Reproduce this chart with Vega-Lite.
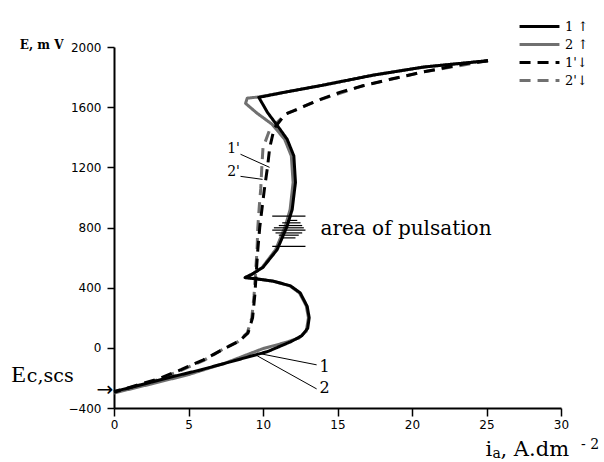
{
  "$schema": "https://vega.github.io/schema/vega-lite/v6.json",
  "width": 447,
  "height": 361,
  "autosize": {"type": "none"},
  "padding": {"left": 114, "top": 47, "right": 43, "bottom": 54},
  "background": "white",
  "config": {
    "view": {"stroke": null},
    "axis": {
      "domainColor": "black", "domainWidth": 2, "tickColor": "black", "tickWidth": 1.5,
      "labelColor": "black", "labelFont": "DejaVu Sans", "labelFontSize": 12,
      "grid": false, "labelFlush": false, "labelOverlap": false
    }
  },
  "datasets": {
    "curves": [
      {"s": "2 ↑", "k": 1, "i": 0, "E": -300},
      {"s": "2 ↑", "k": 2, "i": 2.5, "E": -240},
      {"s": "2 ↑", "k": 3, "i": 5, "E": -178},
      {"s": "2 ↑", "k": 4, "i": 7.5, "E": -100},
      {"s": "2 ↑", "k": 5, "i": 10, "E": -5},
      {"s": "2 ↑", "k": 6, "i": 11.5, "E": 35},
      {"s": "2 ↑", "k": 7, "i": 12.4, "E": 65},
      {"s": "2 ↑", "k": 8, "i": 12.9, "E": 110},
      {"s": "2 ↑", "k": 9, "i": 13.05, "E": 200},
      {"s": "2 ↑", "k": 10, "i": 12.9, "E": 280},
      {"s": "2 ↑", "k": 11, "i": 12.45, "E": 365},
      {"s": "2 ↑", "k": 12, "i": 11.8, "E": 412},
      {"s": "2 ↑", "k": 13, "i": 10.7, "E": 443},
      {"s": "2 ↑", "k": 14, "i": 9.6, "E": 458},
      {"s": "2 ↑", "k": 15, "i": 8.8, "E": 467},
      {"s": "2 ↑", "k": 16, "i": 9.27, "E": 490},
      {"s": "2 ↑", "k": 17, "i": 9.95, "E": 535},
      {"s": "2 ↑", "k": 18, "i": 10.85, "E": 653},
      {"s": "2 ↑", "k": 19, "i": 11.5, "E": 809},
      {"s": "2 ↑", "k": 20, "i": 11.82, "E": 920},
      {"s": "2 ↑", "k": 21, "i": 12.02, "E": 1100},
      {"s": "2 ↑", "k": 22, "i": 11.9, "E": 1276},
      {"s": "2 ↑", "k": 23, "i": 11.45, "E": 1387},
      {"s": "2 ↑", "k": 24, "i": 10.6, "E": 1487},
      {"s": "2 ↑", "k": 25, "i": 9.6, "E": 1560},
      {"s": "2 ↑", "k": 26, "i": 8.83, "E": 1625},
      {"s": "2 ↑", "k": 27, "i": 8.94, "E": 1660},
      {"s": "2 ↑", "k": 28, "i": 9.72, "E": 1668},
      {"s": "2 ↑", "k": 29, "i": 13.96, "E": 1745},
      {"s": "2 ↑", "k": 30, "i": 17.4, "E": 1813},
      {"s": "2 ↑", "k": 31, "i": 20.8, "E": 1867},
      {"s": "2 ↑", "k": 32, "i": 25.1, "E": 1909},

      {"s": "2'↓", "k": 1, "i": 25.1, "E": 1909},
      {"s": "2'↓", "k": 2, "i": 20.8, "E": 1835},
      {"s": "2'↓", "k": 3, "i": 16.7, "E": 1742},
      {"s": "2'↓", "k": 4, "i": 13.6, "E": 1642},
      {"s": "2'↓", "k": 5, "i": 11.5, "E": 1553},
      {"s": "2'↓", "k": 6, "i": 10.45, "E": 1450},
      {"s": "2'↓", "k": 7, "i": 10.0, "E": 1330},
      {"s": "2'↓", "k": 8, "i": 9.92, "E": 1200},
      {"s": "2'↓", "k": 9, "i": 9.85, "E": 1060},
      {"s": "2'↓", "k": 10, "i": 9.75, "E": 940},
      {"s": "2'↓", "k": 11, "i": 9.65, "E": 800},
      {"s": "2'↓", "k": 12, "i": 9.6, "E": 650},
      {"s": "2'↓", "k": 13, "i": 9.5, "E": 500},
      {"s": "2'↓", "k": 14, "i": 9.4, "E": 350},
      {"s": "2'↓", "k": 15, "i": 9.25, "E": 200},
      {"s": "2'↓", "k": 16, "i": 8.95, "E": 100},
      {"s": "2'↓", "k": 17, "i": 8.3, "E": 40},
      {"s": "2'↓", "k": 18, "i": 7.3, "E": -10},
      {"s": "2'↓", "k": 19, "i": 6, "E": -85},
      {"s": "2'↓", "k": 20, "i": 4.5, "E": -150},
      {"s": "2'↓", "k": 21, "i": 3, "E": -210},
      {"s": "2'↓", "k": 22, "i": 0, "E": -298},

      {"s": "1'↓", "k": 1, "i": 25.1, "E": 1909},
      {"s": "1'↓", "k": 2, "i": 23.45, "E": 1887},
      {"s": "1'↓", "k": 3, "i": 20.8, "E": 1835},
      {"s": "1'↓", "k": 4, "i": 18.6, "E": 1787},
      {"s": "1'↓", "k": 5, "i": 16.7, "E": 1742},
      {"s": "1'↓", "k": 6, "i": 15.2, "E": 1700},
      {"s": "1'↓", "k": 7, "i": 13.6, "E": 1642},
      {"s": "1'↓", "k": 8, "i": 12.05, "E": 1575},
      {"s": "1'↓", "k": 9, "i": 11.5, "E": 1553},
      {"s": "1'↓", "k": 10, "i": 10.75, "E": 1460},
      {"s": "1'↓", "k": 11, "i": 10.45, "E": 1330},
      {"s": "1'↓", "k": 12, "i": 10.3, "E": 1200},
      {"s": "1'↓", "k": 13, "i": 10.1, "E": 1060},
      {"s": "1'↓", "k": 14, "i": 9.95, "E": 940},
      {"s": "1'↓", "k": 15, "i": 9.78, "E": 800},
      {"s": "1'↓", "k": 16, "i": 9.65, "E": 650},
      {"s": "1'↓", "k": 17, "i": 9.55, "E": 500},
      {"s": "1'↓", "k": 18, "i": 9.45, "E": 350},
      {"s": "1'↓", "k": 19, "i": 9.3, "E": 200},
      {"s": "1'↓", "k": 20, "i": 9.0, "E": 100},
      {"s": "1'↓", "k": 21, "i": 8.4, "E": 45},
      {"s": "1'↓", "k": 22, "i": 7.4, "E": -5},
      {"s": "1'↓", "k": 23, "i": 6, "E": -80},
      {"s": "1'↓", "k": 24, "i": 4.5, "E": -145},
      {"s": "1'↓", "k": 25, "i": 3, "E": -205},
      {"s": "1'↓", "k": 26, "i": 0, "E": -295},

      {"s": "1 ↑", "k": 1, "i": 0, "E": -290},
      {"s": "1 ↑", "k": 2, "i": 1.2, "E": -262},
      {"s": "1 ↑", "k": 3, "i": 2.5, "E": -228},
      {"s": "1 ↑", "k": 4, "i": 4, "E": -190},
      {"s": "1 ↑", "k": 5, "i": 5.8, "E": -147},
      {"s": "1 ↑", "k": 6, "i": 8, "E": -88},
      {"s": "1 ↑", "k": 7, "i": 10.3, "E": -25},
      {"s": "1 ↑", "k": 8, "i": 11.85, "E": 40},
      {"s": "1 ↑", "k": 9, "i": 12.6, "E": 80},
      {"s": "1 ↑", "k": 10, "i": 13.0, "E": 130},
      {"s": "1 ↑", "k": 11, "i": 13.1, "E": 200},
      {"s": "1 ↑", "k": 12, "i": 12.97, "E": 275},
      {"s": "1 ↑", "k": 13, "i": 12.5, "E": 365},
      {"s": "1 ↑", "k": 14, "i": 11.85, "E": 412},
      {"s": "1 ↑", "k": 15, "i": 10.7, "E": 443},
      {"s": "1 ↑", "k": 16, "i": 9.6, "E": 458},
      {"s": "1 ↑", "k": 17, "i": 8.8, "E": 467},
      {"s": "1 ↑", "k": 18, "i": 9.27, "E": 490},
      {"s": "1 ↑", "k": 19, "i": 10.0, "E": 535},
      {"s": "1 ↑", "k": 20, "i": 10.95, "E": 653},
      {"s": "1 ↑", "k": 21, "i": 11.62, "E": 809},
      {"s": "1 ↑", "k": 22, "i": 11.96, "E": 920},
      {"s": "1 ↑", "k": 23, "i": 12.18, "E": 1100},
      {"s": "1 ↑", "k": 24, "i": 12.07, "E": 1276},
      {"s": "1 ↑", "k": 25, "i": 11.62, "E": 1387},
      {"s": "1 ↑", "k": 26, "i": 11.06, "E": 1464},
      {"s": "1 ↑", "k": 27, "i": 10.3, "E": 1565},
      {"s": "1 ↑", "k": 28, "i": 9.72, "E": 1665},
      {"s": "1 ↑", "k": 29, "i": 11.5, "E": 1700},
      {"s": "1 ↑", "k": 30, "i": 13.96, "E": 1745},
      {"s": "1 ↑", "k": 31, "i": 17.4, "E": 1813},
      {"s": "1 ↑", "k": 32, "i": 20.8, "E": 1867},
      {"s": "1 ↑", "k": 33, "i": 25.1, "E": 1909}
    ],
    "leaders": [
      {"i": 9.61, "E": -35, "i2": 13.6, "E2": -113},
      {"i": 9.61, "E": -53, "i2": 13.6, "E2": -273},
      {"i": 8.49, "E": 1287, "i2": 10.44, "E2": 1200},
      {"i": 8.49, "E": 1140, "i2": 9.97, "E2": 1120}
    ],
    "pulsation": [
      {"i": 10.62, "i2": 12.85, "E": 875},
      {"i": 11.62, "i2": 12.3, "E": 847},
      {"i": 11.29, "i2": 12.52, "E": 831},
      {"i": 11.06, "i2": 12.63, "E": 813},
      {"i": 10.73, "i2": 12.74, "E": 798},
      {"i": 10.62, "i2": 12.85, "E": 782},
      {"i": 10.84, "i2": 12.63, "E": 764},
      {"i": 11.06, "i2": 12.4, "E": 749},
      {"i": 11.29, "i2": 12.18, "E": 731},
      {"i": 10.62, "i2": 12.85, "E": 675}
    ]
  },
  "layer": [
    {
      "data": {"name": "curves"},
      "mark": {"type": "line", "strokeWidth": 3, "strokeJoin": "round"},
      "encoding": {
        "x": {
          "field": "i", "type": "quantitative",
          "scale": {"domain": [0, 30], "nice": false, "zero": false},
          "axis": {
            "title": null,
            "values": [0, 2.5, 5, 7.5, 10, 12.5, 15, 17.5, 20, 22.5, 25, 27.5, 30],
            "labelExpr": "datum.value % 5 === 0 ? datum.label : ''",
            "tickSize": {"condition": {"test": "datum.value % 5 === 0", "value": 8}, "value": 5},
            "labelPadding": 3
          }
        },
        "y": {
          "field": "E", "type": "quantitative",
          "scale": {"domain": [-400, 2000], "nice": false, "zero": false},
          "axis": {
            "title": "E, m V",
            "titleAngle": 0, "titleAlign": "right", "titleBaseline": "middle",
            "titleX": -51, "titleY": -3,
            "titleFont": "DejaVu Serif", "titleFontSize": 12, "titleFontWeight": "bold", "titleColor": "black",
            "values": [-400, -200, 0, 200, 400, 600, 800, 1000, 1200, 1400, 1600, 1800, 2000],
            "labelExpr": "datum.value % 400 === 0 ? datum.label : ''",
            "format": "d",
            "tickSize": {"condition": {"test": "datum.value % 400 === 0", "value": 7}, "value": 4},
            "labelPadding": 6
          }
        },
        "color": {
          "field": "s", "type": "nominal",
          "scale": {"domain": ["1 ↑", "2 ↑", "1'↓", "2'↓"], "range": ["#000000", "#707070", "#000000", "#707070"]},
          "legend": {
            "title": null, "orient": "none", "legendX": 414.5, "legendY": -31.5,
            "symbolType": "M-2.1,0H2.1", "symbolSize": 361, "symbolStrokeWidth": 3, "symbolFillColor": "transparent",
            "labelFont": "DejaVu Serif, DejaVu Sans", "labelFontSize": 13, "labelColor": "black",
            "labelOffset": 14.5, "rowPadding": 0, "padding": 0
          }
        },
        "strokeDash": {
          "field": "s", "type": "nominal",
          "scale": {"domain": ["1 ↑", "2 ↑", "1'↓", "2'↓"], "range": [[1, 0], [1, 0], [11, 7], [11, 7]]},
          "legend": null
        },
        "order": {"field": "k", "type": "quantitative"}
      }
    },
    {
      "data": {"name": "leaders"},
      "mark": {"type": "rule", "color": "black", "strokeWidth": 1},
      "encoding": {
        "x": {"field": "i", "type": "quantitative"},
        "y": {"field": "E", "type": "quantitative"},
        "x2": {"field": "i2"},
        "y2": {"field": "E2"}
      }
    },
    {
      "data": {"name": "pulsation"},
      "mark": {"type": "rule", "color": "black", "strokeWidth": 1.2},
      "encoding": {
        "x": {"field": "i", "type": "quantitative"},
        "x2": {"field": "i2"},
        "y": {"field": "E", "type": "quantitative"}
      }
    },
    {
      "data": {"values": [{"t": "1", "i": 13.8, "E": -127}, {"t": "2", "i": 13.8, "E": -267}]},
      "mark": {"type": "text", "font": "DejaVu Serif", "fontSize": 16, "align": "left", "baseline": "middle", "color": "black"},
      "encoding": {"x": {"field": "i", "type": "quantitative"}, "y": {"field": "E", "type": "quantitative"}, "text": {"field": "t"}}
    },
    {
      "data": {"values": [{"t": "1'", "i": 8.45, "E": 1320}, {"t": "2'", "i": 8.45, "E": 1167}]},
      "mark": {"type": "text", "font": "DejaVu Serif", "fontSize": 14, "align": "right", "baseline": "middle", "color": "black"},
      "encoding": {"x": {"field": "i", "type": "quantitative"}, "y": {"field": "E", "type": "quantitative"}, "text": {"field": "t"}}
    },
    {
      "data": {"values": [{"t": "area of pulsation", "i": 13.86, "E": 793}]},
      "mark": {"type": "text", "font": "DejaVu Serif", "fontSize": 20, "align": "left", "baseline": "middle", "color": "black"},
      "encoding": {"x": {"field": "i", "type": "quantitative"}, "y": {"field": "E", "type": "quantitative"}, "text": {"field": "t"}}
    },
    {
      "data": {"values": [{"t": "E", "i": -6.9, "E": -227}]},
      "mark": {"type": "text", "font": "Liberation Serif", "fontSize": 24, "align": "left", "baseline": "alphabetic", "color": "black"},
      "encoding": {"x": {"field": "i", "type": "quantitative"}, "y": {"field": "E", "type": "quantitative"}, "text": {"field": "t"}}
    },
    {
      "data": {"values": [{"t": "c,scs", "i": -5.85, "E": -227}]},
      "mark": {"type": "text", "font": "DejaVu Serif", "fontSize": 19, "align": "left", "baseline": "alphabetic", "color": "black"},
      "encoding": {"x": {"field": "i", "type": "quantitative"}, "y": {"field": "E", "type": "quantitative"}, "text": {"field": "t"}}
    },
    {
      "data": {"values": [{"t": "→", "i": -0.05, "E": -283}]},
      "mark": {"type": "text", "font": "DejaVu Sans", "fontSize": 20, "align": "right", "baseline": "middle", "color": "black"},
      "encoding": {"x": {"field": "i", "type": "quantitative"}, "y": {"field": "E", "type": "quantitative"}, "text": {"field": "t"}}
    },
    {
      "data": {"values": [{"t": "i", "i": 24.93, "E": -718}, {"t": ", A.dm", "i": 25.94, "E": -718}]},
      "mark": {"type": "text", "font": "DejaVu Serif", "fontSize": 21, "align": "left", "baseline": "alphabetic", "color": "black"},
      "encoding": {"x": {"field": "i", "type": "quantitative"}, "y": {"field": "E", "type": "quantitative"}, "text": {"field": "t"}}
    },
    {
      "data": {"values": [{"t": "a", "i": 25.4, "E": -733}, {"t": "- 2", "i": 31.35, "E": -670}]},
      "mark": {"type": "text", "font": "DejaVu Serif", "fontSize": 14, "align": "left", "baseline": "alphabetic", "color": "black"},
      "encoding": {"x": {"field": "i", "type": "quantitative"}, "y": {"field": "E", "type": "quantitative"}, "text": {"field": "t"}}
    }
  ]
}
